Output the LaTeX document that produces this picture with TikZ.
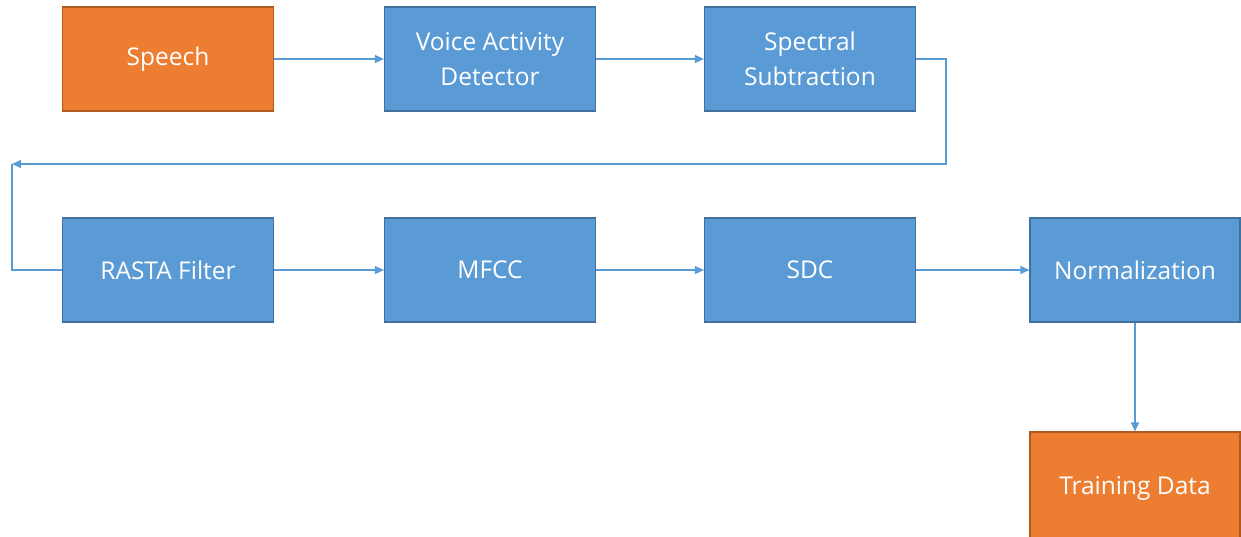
\documentclass[tikz,border=0pt]{standalone}
\usepackage{fontspec}
\setmainfont{Open Sans}
\usetikzlibrary{arrows.meta}
\definecolor{boxblue}{HTML}{5B9BD5}
\definecolor{blueedge}{HTML}{41719C}
\definecolor{boxorange}{HTML}{ED7D31}
\definecolor{orangeedge}{HTML}{AE5A21}
\definecolor{linkblue}{HTML}{5B9BD5}
\tikzset{
  procbox/.style={draw=blueedge, fill=boxblue, line width=1.2pt, minimum width=211pt, minimum height=104pt,
    text=white, align=center, font=\fontsize{24.5}{35}\selectfont, inner sep=0pt},
  termbox/.style={procbox, draw=orangeedge, fill=boxorange},
  link/.style={draw=linkblue, line width=1.3pt},
  arr/.style={link, -{Triangle[length=9pt,width=8pt]}}
}
\begin{document}
\begin{tikzpicture}[x=1pt,y=-1pt]
\useasboundingbox (0,0) rectangle (1241,536);
\node[termbox] (speech) at (168,59) {Speech};
\node[procbox] (vad) at (490,59) {Voice Activity\\Detector};
\node[procbox] (spec) at (810,59) {Spectral\\Subtraction};
\node[procbox] (rasta) at (168,270) {RASTA Filter};
\node[procbox] (mfcc) at (490,270) {MFCC};
\node[procbox] (sdc) at (810,270) {SDC};
\node[procbox, minimum width=210pt] (norm) at (1135,270) {Normalization};
\node[termbox, minimum width=210pt, minimum height=112pt] (train) at (1135,488) {Training Data};
\coordinate (turnA) at (946,164);
\coordinate (turnB) at (12,164);
\draw[arr] (speech) -- (vad);
\draw[arr] (vad) -- (spec);
\draw[arr] (spec.east) -| (turnA) -- (turnB);
\draw[link] (turnB) |- (rasta.west);
\draw[arr] (rasta) -- (mfcc);
\draw[arr] (mfcc) -- (sdc);
\draw[arr] (sdc) -- (norm);
\draw[arr] (norm) -- (train);
\end{tikzpicture}
\end{document}
